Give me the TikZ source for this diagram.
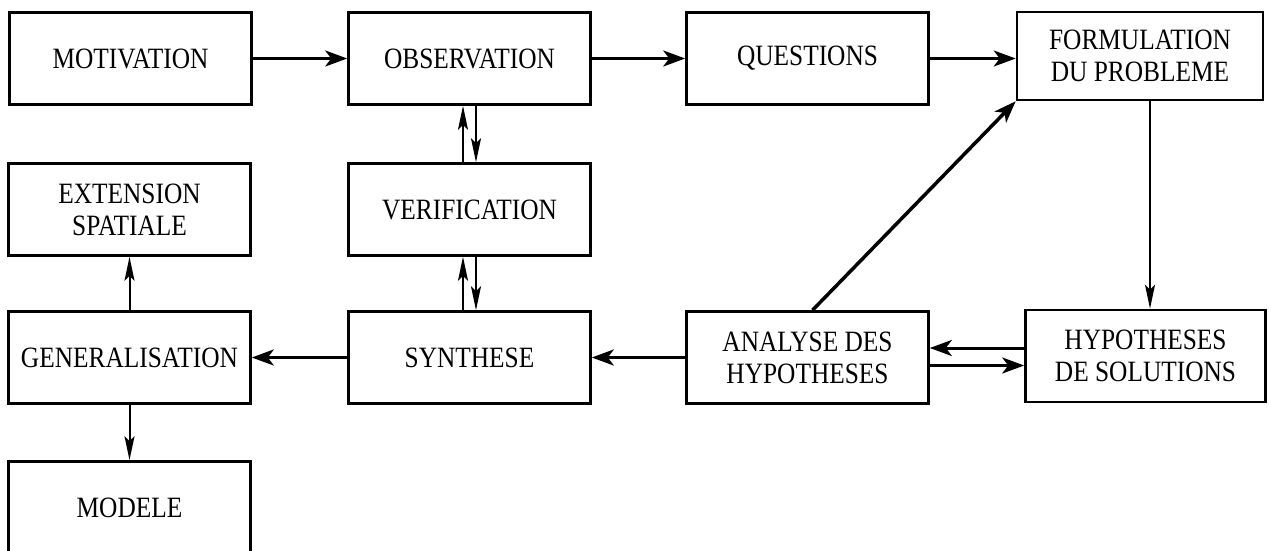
\documentclass[tikz,border=0pt]{standalone}
\usepackage{fontspec}
\setmainfont[FakeStretch=0.86]{Liberation Serif}
\usetikzlibrary{arrows.meta,positioning}

\begin{document}
\begin{tikzpicture}[
  x=1pt, y=-1pt,
  node distance=150pt,
  block/.style={rectangle, draw, line width=2.6pt, minimum width=242pt, minimum height=92pt, inner sep=0pt, align=center},
  harrow/.style={-{Stealth[length=22pt,width=16pt,inset=6pt]}, line width=3pt},
  varrow/.style={-{Stealth[length=24pt,width=10pt,inset=5pt]}, line width=2pt},
  font=\fontsize{29.5}{32}\selectfont
]
\useasboundingbox (0,0) rectangle (1269,551);
\clip (0,0) rectangle (1269,551);

% Top row
\node[block] (motiv) at (130.5,58.5) {MOTIVATION};
\node[block, right of=motiv, node distance=339pt] (observ) {OBSERVATION};
\node[block, right of=observ, node distance=338pt] (quest) {QUESTIONS};
\node[block, minimum width=246pt, minimum height=88pt] (formul) at (1140,56) {FORMULATION\\DU PROBLEME};

% Middle column
\node[block, below of=observ, node distance=151pt] (verif) {VERIFICATION};
\node[block, below of=verif, node distance=148pt] (synth) {SYNTHESE};
\node[block, right of=synth, node distance=338pt] (analyse) {ANALYSE DES\\HYPOTHESES};
\node[block, minimum width=240pt] (hypoth) at (1145.5,356) {HYPOTHESES\\DE SOLUTIONS};

% Left column
\node[block, left of=verif, node distance=340pt] (extens) {EXTENSION\\SPATIALE};
\node[block, left of=synth, node distance=340pt] (general) {GENERALISATION};
\node[block, below of=general, node distance=150pt] (modele) {MODELE};

% Arrows
\draw[harrow] (motiv) -- (observ);
\draw[harrow] (observ) -- (quest);
\draw[harrow] (quest) -- (quest -| formul.west);
\draw[varrow] ([xshift=10pt]formul.south) -- ([xshift=10pt]formul.south |- hypoth.north);
\draw[harrow] ([yshift=8pt]hypoth.west) -- ([yshift=8pt]hypoth.west -| analyse.east);
\draw[harrow] ([yshift=-8pt]analyse.east) -- ([yshift=-8pt]analyse.east -| hypoth.west);
\draw[harrow, line width=3.5pt] ([xshift=5pt]analyse.north) -- (formul.south west);
\draw[harrow] (analyse) -- (synth);
\draw[harrow] (synth) -- (general);
\draw[varrow] ([xshift=-6.5pt]synth.north) -- ([xshift=-6.5pt]verif.south);
\draw[varrow] ([xshift=6.5pt]verif.south) -- ([xshift=6.5pt]synth.north);
\draw[varrow] ([xshift=-6.5pt]verif.north) -- ([xshift=-6.5pt]observ.south);
\draw[varrow] ([xshift=6.5pt]observ.south) -- ([xshift=6.5pt]verif.north);
\draw[varrow] (general) -- (extens);
\draw[varrow] (general) -- (modele);
\end{tikzpicture}
\end{document}
